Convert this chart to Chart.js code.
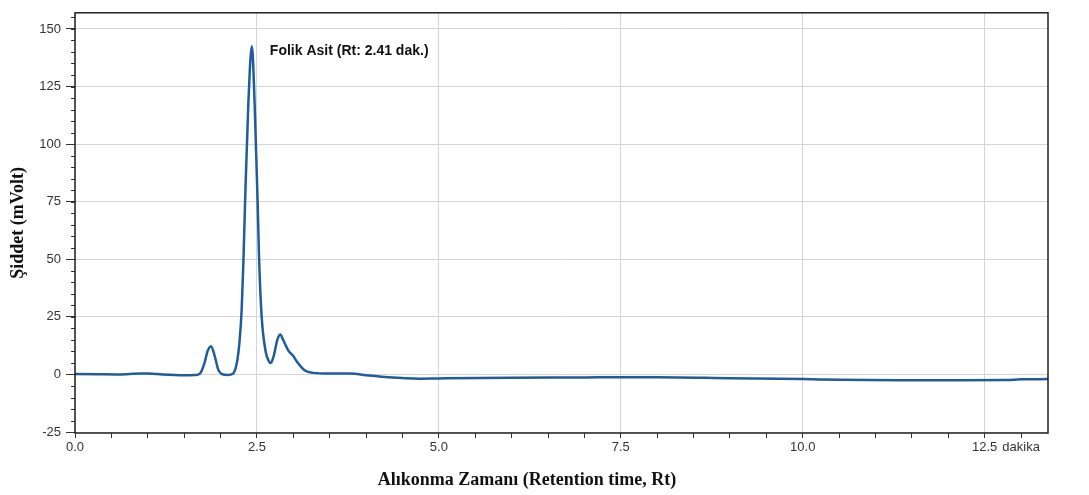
<!DOCTYPE html>
<html lang="tr">
<head>
<meta charset="UTF-8">
<title>Folik Asit Kromatogram</title>
<script src="https://cdn.jsdelivr.net/npm/chart.js"></script>
<style>
  html, body { margin: 0; padding: 0; background: #fff; }
  #wrap { width: 1089px; height: 495px; position: relative; }
</style>
</head>
<body>
<div id="wrap"><canvas id="chrom"></canvas></div>
<script>
// retention time (min) and detector signal (mV)
const times  = [0, 0.3, 0.6, 0.9, 1.0, 1.2, 1.5, 1.65, 1.72, 1.78, 1.82, 1.87, 1.92, 1.97, 2.02, 2.1,
                2.17, 2.2, 2.23, 2.26, 2.29, 2.315, 2.34, 2.38, 2.43, 2.47, 2.51, 2.53, 2.565, 2.62, 2.66,
                2.69, 2.73, 2.78, 2.82, 2.86, 2.93, 3.0, 3.05, 3.16, 3.27, 3.5, 3.78, 4.0, 4.3, 4.74,
                5.0, 6.0, 7.0, 7.5, 8.0, 9.0, 10.0, 10.5, 11.3, 12.0, 12.8, 13.0, 13.37];
const signal = [0.2, 0.1, 0.0, 0.4, 0.4, 0.0, -0.3, -0.2, 0.5, 5, 10, 12.3, 8, 2, 0.2, -0.2,
                0.3, 2, 6, 14, 28, 50, 78, 116, 142.5, 116, 74, 50, 25, 10, 6,
                5, 8, 15, 17.4, 15, 10.5, 8, 5.5, 1.7, 0.7, 0.4, 0.4, -0.3, -1.2, -1.8,
                -1.7, -1.4, -1.3, -1.2, -1.2, -1.6, -2.0, -2.3, -2.5, -2.5, -2.4, -2.1, -2.0];

// axes
const yMajor = [-25, 0, 25, 50, 75, 100, 125, 150];
const xMajor = [0, 2.5, 5, 7.5, 10, 12.5];
const unitTick = 13, unitLabel = 'dakika';
const xMinor = [];
for (let v = 0; v <= 13.001; v += 0.5) xMinor.push(Math.round(v * 10) / 10);
const yMinor = [];
for (let v = -25; v <= 155; v += 5) yMinor.push(v);

const peakTime = 2.43, peakHeight = 142.5;
const peakLabel = 'Folik Asit (Rt: 2.41 dak.)';
const xTitle = 'Alıkonma Zamanı (Retention time, Rt)';
const yTitle = 'Şiddet (mVolt)';

const sans = '"Liberation Sans", Arial, sans-serif';
const serif = '"Liberation Serif", "Times New Roman", serif';
const isMajorX = v => xMajor.some(m => Math.abs(m - v) < 1e-6);

const frameAndNotes = {
  id: 'frameAndNotes',
  afterDraw(chart) {
    const { ctx, chartArea: a, scales: { x, y } } = chart;
    ctx.save();
    // short minor ticks on the y axis
    ctx.strokeStyle = '#333';
    ctx.lineWidth = 1;
    ctx.beginPath();
    yMinor.forEach(v => {
      const py = Math.round(y.getPixelForValue(v)) + 0.5;
      ctx.moveTo(a.left - 4, py);
      ctx.lineTo(a.left, py);
    });
    ctx.stroke();
    // plot frame
    ctx.strokeStyle = '#222';
    ctx.lineWidth = 1.5;
    ctx.strokeRect(a.left, a.top, a.right - a.left, a.bottom - a.top);
    // peak label
    ctx.fillStyle = '#111';
    ctx.font = 'bold 14px ' + sans;
    ctx.textBaseline = 'middle';
    ctx.textAlign = 'left';
    ctx.fillText(peakLabel, x.getPixelForValue(peakTime) + 18, y.getPixelForValue(peakHeight) + 5);
    // x axis title
    ctx.font = 'bold 18px ' + serif;
    ctx.textAlign = 'center';
    ctx.fillText(xTitle, 527, 480);
    ctx.restore();
  }
};

new Chart(document.getElementById('chrom'), {
  type: 'line',
  data: {
    datasets: [{
      data: times.map((t, i) => ({ x: t, y: signal[i] })),
      borderColor: '#1f5c99',
      borderWidth: 2.5,
      pointRadius: 0,
      fill: false,
      cubicInterpolationMode: 'monotone'
    }]
  },
  options: {
    responsive: true,
    maintainAspectRatio: false,
    animation: false,
    layout: { padding: { top: 4, right: 41, left: 0, bottom: 0 } },
    plugins: { legend: { display: false }, tooltip: { enabled: false } },
    scales: {
      x: {
        type: 'linear',
        min: 0,
        max: 13.37,
        afterBuildTicks: s => { s.ticks = xMinor.map(v => ({ value: v })); },
        afterFit: s => { s.height = 62; },
        border: { display: false },
        grid: {
          color: c => (c.tick && isMajorX(c.tick.value)) ? '#d4d4d4' : 'rgba(0,0,0,0)',
          tickColor: '#333',
          tickLength: 5
        },
        ticks: {
          autoSkip: false,
          maxRotation: 0,
          padding: 2,
          color: '#333',
          font: { family: sans, size: 13 },
          callback: v => isMajorX(v) ? v.toFixed(1) : (Math.abs(v - unitTick) < 1e-6 ? unitLabel : '')
        }
      },
      y: {
        min: -25.4,
        max: 157,
        afterBuildTicks: s => { s.ticks = yMajor.map(v => ({ value: v })); },
        afterFit: s => { s.width = 75; },
        border: { display: false },
        grid: { color: '#d4d4d4', tickColor: '#333', tickLength: 9 },
        ticks: {
          padding: 5,
          color: '#333',
          font: { family: sans, size: 13 },
          callback: v => String(v)
        },
        title: {
          display: true,
          text: yTitle,
          color: '#111',
          font: { family: serif, size: 18, weight: 'bold' },
          padding: { top: 8, bottom: 0 }
        }
      }
    }
  },
  plugins: [frameAndNotes]
});
</script>
</body>
</html>
